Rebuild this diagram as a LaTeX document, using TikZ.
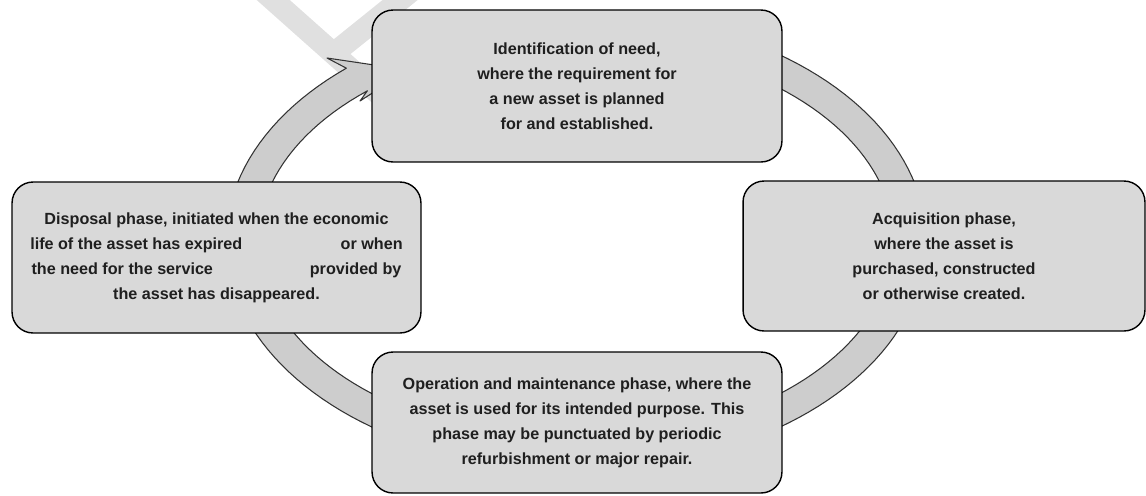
\documentclass[tikz,border=0pt]{standalone}
\usepackage{fontspec}
\setmainfont{Liberation Sans}
\usetikzlibrary{positioning}

\definecolor{boxgray}{RGB}{217,217,217}
\definecolor{bandgray}{RGB}{205,205,205}
\definecolor{wmgray}{RGB}{224,224,224}

\begin{document}
\begin{tikzpicture}[
  x=0.02cm, y=-0.02cm,
  every node/.style={font=\fontsize{9.2}{14.2}\selectfont\bfseries, text=black!88},
  phase/.style={rectangle, rounded corners=0.42cm, draw=black, fill=boxgray, line width=0.8pt, align=center, inner sep=0pt},
  cycleband/.style={draw=black!80, fill=bandgray, line width=0.6pt, line join=round},
  wmark/.style={draw=wmgray, line width=0.44cm}
]
  \useasboundingbox (0,0) rectangle (1146,495);

  % faint watermark strokes
  \draw[wmark] (262,-10) -- (380,95);
  \draw[wmark] (420,-16) -- (333,54);

  % cycle band with its head
  \coordinate (rc) at (576,241);
  \draw[cycleband] plot[domain=-70:229, samples=140, variable=\t] ({576+350*cos(\t)}, {241+229*sin(\t)})
    -- (327,58) -- (408,70) -- (360,101)
    -- plot[domain=229:-70, samples=140, variable=\t] ({576+318*cos(\t)}, {241+199*sin(\t)}) -- cycle;

  \node[phase, minimum width=8.2cm, minimum height=3.04cm] (need) at (577,86)
    {Identification of need,\\ where the requirement for\\ a new asset is planned\\ for and established.};
  \node[phase, minimum width=8.04cm, minimum height=3.0cm] (acq) at (944,256)
    {Acquisition phase,\\ where the asset is\\ purchased, constructed\\ or otherwise created.};
  \node[phase, minimum width=8.2cm, minimum height=2.82cm] (oper) at (577,422.5)
    {Operation and maintenance phase, where the\\ asset is used for its intended purpose. This\\ phase may be punctuated by periodic\\ refurbishment or major repair.};
  \node[phase, minimum width=8.18cm, minimum height=3.02cm] (disp) at (216.5,257.5)
    {Disposal phase, initiated when the economic\\
     \makebox[7.45cm]{life of the asset has expired\hfill or when}\\
     \makebox[7.4cm]{the need for the service\hfill provided by}\\
     the asset has disappeared.};
\end{tikzpicture}
\end{document}
